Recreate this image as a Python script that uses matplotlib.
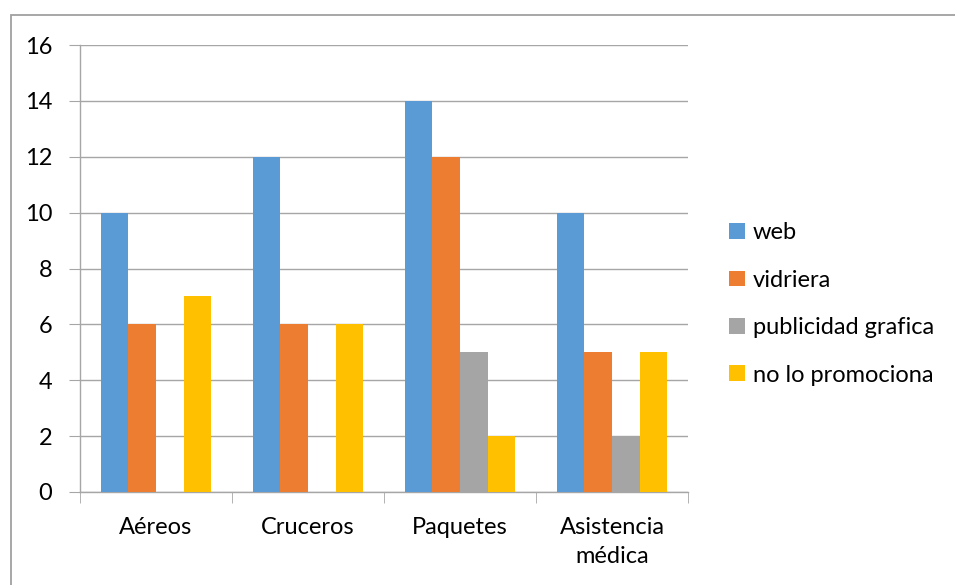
import numpy as np
import matplotlib.pyplot as plt
from matplotlib.patches import Rectangle

# data
categories = ["Aéreos", "Cruceros", "Paquetes", "Asistencia\nmédica"]
series_names = ["web", "vidriera", "publicidad grafica", "no lo promociona"]
web = [10, 12, 14, 10]
vidriera = [6, 6, 12, 5]
publicidad = [0, 0, 5, 2]
no_promo = [7, 6, 2, 5]
colors = ["#5B9BD5", "#ED7D31", "#A5A5A5", "#FFC000"]
yticks = [0, 2, 4, 6, 8, 10, 12, 14, 16]

plt.rcParams["font.family"] = ["Lato", "DejaVu Sans"]
FS = 17

fig = plt.figure(figsize=(9.55, 5.85), dpi=100)
ax = fig.add_axes([80 / 955, 1 - 492 / 585, (688 - 80) / 955, (492 - 45) / 585])

# outer chart border
fig.patches.append(Rectangle((11 / 955, -0.05), 1.2, 1 - 15 / 585 + 0.05,
                             transform=fig.transFigure, fill=False,
                             edgecolor="#A0A0A0", linewidth=1.3))

x = np.arange(len(categories))
bw = 1 / 5.5
values = [web, vidriera, publicidad, no_promo]
for i, (name, vals) in enumerate(zip(series_names, values)):
    ax.bar(x + (i - 1.5) * bw, vals, width=bw, color=colors[i], label=name, zorder=3)

ax.set_xlim(-0.5, len(categories) - 0.5)
ax.set_ylim(0, 16)
ax.set_yticks(yticks)
ax.set_xticks(x)
ax.set_xticklabels(categories, fontsize=FS, linespacing=1.45)
ax.set_xticks(np.arange(len(categories) + 1) - 0.5, minor=True)
ax.tick_params(axis="x", which="major", length=0, pad=18)
ax.tick_params(axis="x", which="minor", length=8, color="#A6A6A6", direction="out")
ax.tick_params(axis="y", length=8, color="#A6A6A6", labelsize=FS, pad=12)

ax.grid(axis="y", color="#A6A6A6", linewidth=1, zorder=0)
for s in ["top", "right"]:
    ax.spines[s].set_visible(False)
for s in ["left", "bottom"]:
    ax.spines[s].set_color("#A6A6A6")
    ax.spines[s].set_linewidth(1)

ax.legend(loc="center left", bbox_to_anchor=(708 / 955, 1 - 304 / 585),
          bbox_transform=fig.transFigure, frameon=False, fontsize=FS,
          handlelength=0.65, handleheight=0.65, handletextpad=0.35, labelspacing=1.12)

fig.savefig("out.png", dpi=100)
